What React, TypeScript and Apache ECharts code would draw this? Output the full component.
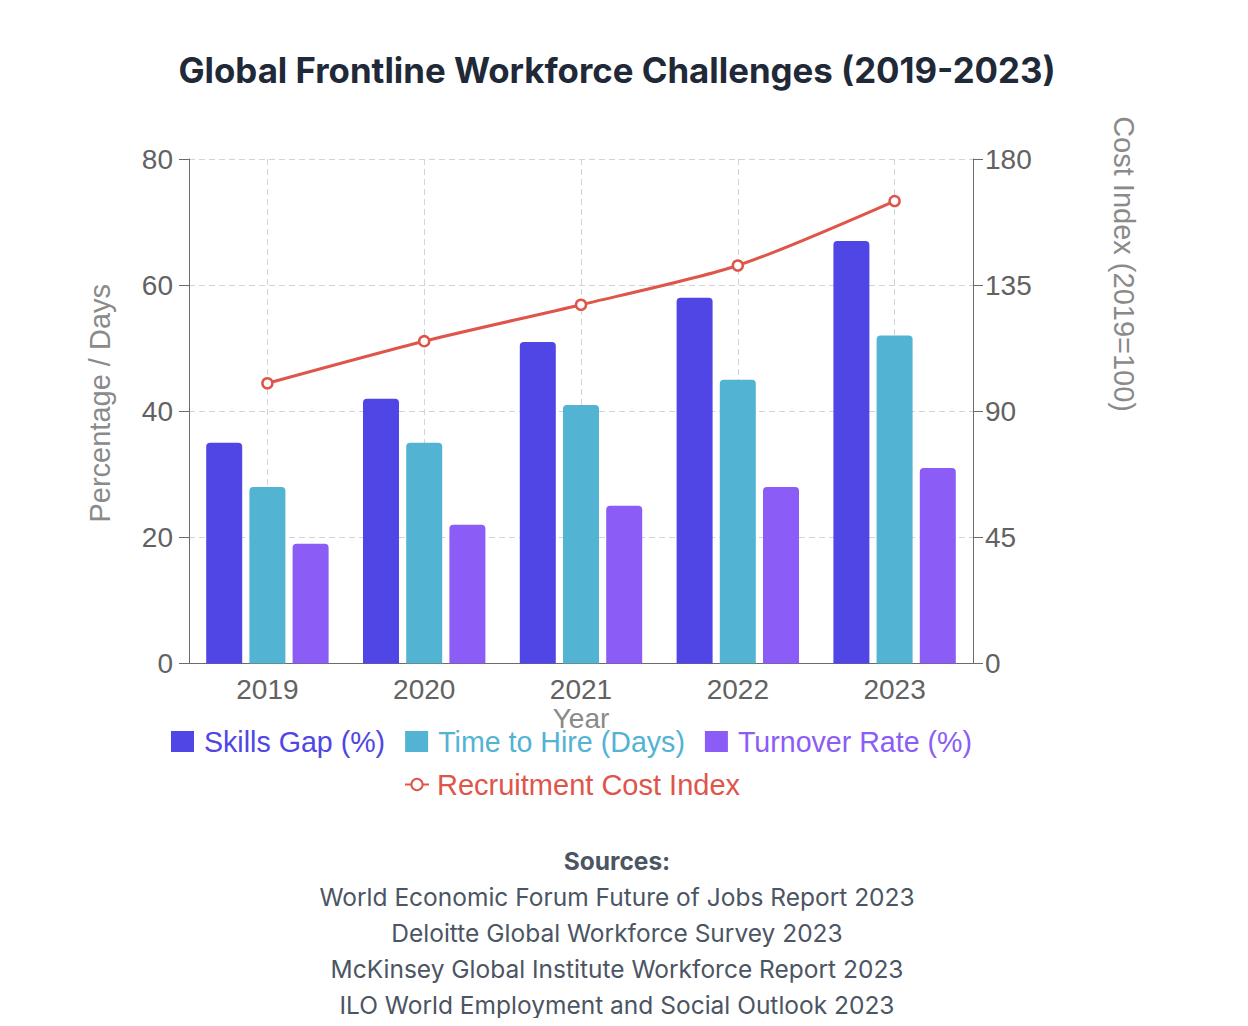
import React, { useEffect, useRef } from 'react';
import * as echarts from 'echarts';

const categories = ['2019', '2020', '2021', '2022', '2023'];
const skillsGap = [35, 42, 51, 58, 67];
const timeToHire = [28, 35, 41, 45, 52];
const turnoverRate = [19, 22, 25, 28, 31];
const costIndex = [100, 115, 128, 142, 165];
const seriesNames = ['Skills Gap (%)', 'Time to Hire (Days)', 'Turnover Rate (%)', 'Recruitment Cost Index'];
const seriesColors = ['#4f46e5', '#52b3d3', '#8b5cf6', '#e0554a'];
const sources = [
  'World Economic Forum Future of Jobs Report 2023',
  'Deloitte Global Workforce Survey 2023',
  'McKinsey Global Institute Workforce Report 2023',
  'ILO World Employment and Social Outlook 2023',
];
const titleText = 'Global Frontline Workforce Challenges (2019-2023)';
const rightAxisTitle = 'Cost Index (2019=100)';

export default function App() {
  const ref = useRef<HTMLDivElement>(null);
  useEffect(() => {
    const chart = echarts.init(ref.current as HTMLDivElement, null, { renderer: 'svg' });
    const font = "'Liberation Sans', Arial, Helvetica, sans-serif";
    const inter = "Inter, 'Noto Sans', sans-serif";
    const axisGray = '#6b6b6b';
    const labelGray = '#626262';
    const nameGray = '#8a8a8a';
    const gridColor = '#cfd3db';
    const slots = Array.from({ length: categories.length * 2 + 1 }, (_, i) => 's' + i);

    const option: any = {
      animation: false,
      textStyle: { fontFamily: font },
      grid: { left: 181, right: 267, top: 151, bottom: 362.5 },
      xAxis: [
        {
          type: 'category',
          data: categories,
          boundaryGap: true,
          name: 'Year',
          nameLocation: 'middle',
          nameGap: 36,
          nameTextStyle: { fontSize: 28, color: nameGray, fontFamily: font },
          axisLine: { lineStyle: { color: axisGray, width: 1 } },
          axisTick: { alignWithLabel: true, length: 8, lineStyle: { color: axisGray } },
          axisLabel: { fontSize: 28, color: labelGray, margin: 12, fontFamily: font },
          splitLine: { show: false },
        },
        {
          type: 'category',
          data: slots,
          boundaryGap: false,
          position: 'bottom',
          axisLine: { show: false },
          axisTick: { show: false },
          axisLabel: { show: false },
          splitLine: {
            show: true,
            interval: (i: number) => i % 2 === 1,
            lineStyle: { type: [6, 4], color: gridColor, width: 1 },
          },
        },
      ],
      yAxis: [
        {
          type: 'value',
          min: 0,
          max: 80,
          interval: 20,
          position: 'left',
          name: 'Percentage / Days',
          nameLocation: 'middle',
          nameGap: 75,
          nameRotate: 90,
          nameTextStyle: { fontSize: 29, color: nameGray, fontFamily: font, padding: [0, 0, 0, 16] },
          axisLine: { show: true, lineStyle: { color: axisGray, width: 1 } },
          axisTick: { show: true, length: 10, lineStyle: { color: axisGray } },
          axisLabel: { fontSize: 28, color: labelGray, margin: 16, fontFamily: font },
          splitLine: { show: true, lineStyle: { type: [6, 4], color: gridColor, width: 1 } },
        },
        {
          type: 'value',
          min: 0,
          max: 180,
          interval: 45,
          position: 'right',
          axisLine: { show: true, lineStyle: { color: axisGray, width: 1 } },
          axisTick: { show: true, length: 10, lineStyle: { color: axisGray } },
          axisLabel: { fontSize: 28, color: labelGray, margin: 12, fontFamily: font },
          splitLine: { show: false },
        },
      ],
      legend: [
        {
          data: seriesNames.slice(0, 3).map((n, i) => ({ name: n, textStyle: { color: seriesColors[i] } })),
          left: 163,
          top: 719,
          padding: 0,
          icon: 'rect',
          itemWidth: 23,
          itemHeight: 21,
          itemGap: 20,
          selectedMode: false,
          textStyle: { fontSize: 28.6, fontFamily: font, padding: [0, 0, 0, 5] },
        },
        {
          data: [{ name: seriesNames[3], textStyle: { color: seriesColors[3] } }],
          left: 396,
          top: 762,
          padding: 0,
          itemWidth: 24,
          itemHeight: 14,
          selectedMode: false,
          textStyle: { fontSize: 29, fontFamily: font, padding: [0, 0, 0, 3] },
        },
      ],
      series: [
        {
          name: seriesNames[0],
          type: 'bar',
          data: skillsGap,
          barWidth: 36,
          barGap: '20%',
          itemStyle: { color: seriesColors[0], borderRadius: [4, 4, 0, 0] },
        },
        {
          name: seriesNames[1],
          type: 'bar',
          data: timeToHire,
          barWidth: 36,
          barGap: '20%',
          itemStyle: { color: seriesColors[1], borderRadius: [4, 4, 0, 0] },
        },
        {
          name: seriesNames[2],
          type: 'bar',
          data: turnoverRate,
          barWidth: 36,
          barGap: '20%',
          itemStyle: { color: seriesColors[2], borderRadius: [4, 4, 0, 0] },
        },
        {
          name: seriesNames[3],
          type: 'line',
          yAxisIndex: 1,
          data: costIndex,
          smooth: 0.25,
          symbol: 'circle',
          symbolSize: 10,
          z: 10,
          lineStyle: { color: seriesColors[3], width: 3 },
          itemStyle: { color: '#ffffff', borderColor: seriesColors[3], borderWidth: 2.5 },
        },
      ],
      graphic: [
        {
          type: 'text',
          x: 609,
          y: 62,
          style: {
            text: titleText,
            font: `bold 34.8px ${inter}`,
            fill: '#1f2937',
            align: 'center',
            verticalAlign: 'middle',
          },
        },
        {
          type: 'text',
          x: 1116,
          y: 404,
          rotation: -Math.PI / 2,
          style: {
            text: rightAxisTitle,
            font: `29px ${font}`,
            fill: nameGray,
            align: 'right',
            verticalAlign: 'middle',
          },
        },
        {
          type: 'text',
          x: 609,
          y: 853,
          style: {
            text: 'Sources:',
            font: `bold 24.5px ${inter}`,
            fill: '#4b5563',
            align: 'center',
            verticalAlign: 'middle',
          },
        },
        ...sources.map((s, i) => ({
          type: 'text',
          x: 609,
          y: 889 + i * 36,
          style: {
            text: s,
            font: `24.5px ${inter}`,
            fill: '#4b5563',
            align: 'center',
            verticalAlign: 'middle',
          },
        })),
      ],
    };
    chart.setOption(option);
    return () => chart.dispose();
  }, []);
  return <div ref={ref} style={{ width: 1232, height: 1018, marginBottom: -8 }} />;
}
